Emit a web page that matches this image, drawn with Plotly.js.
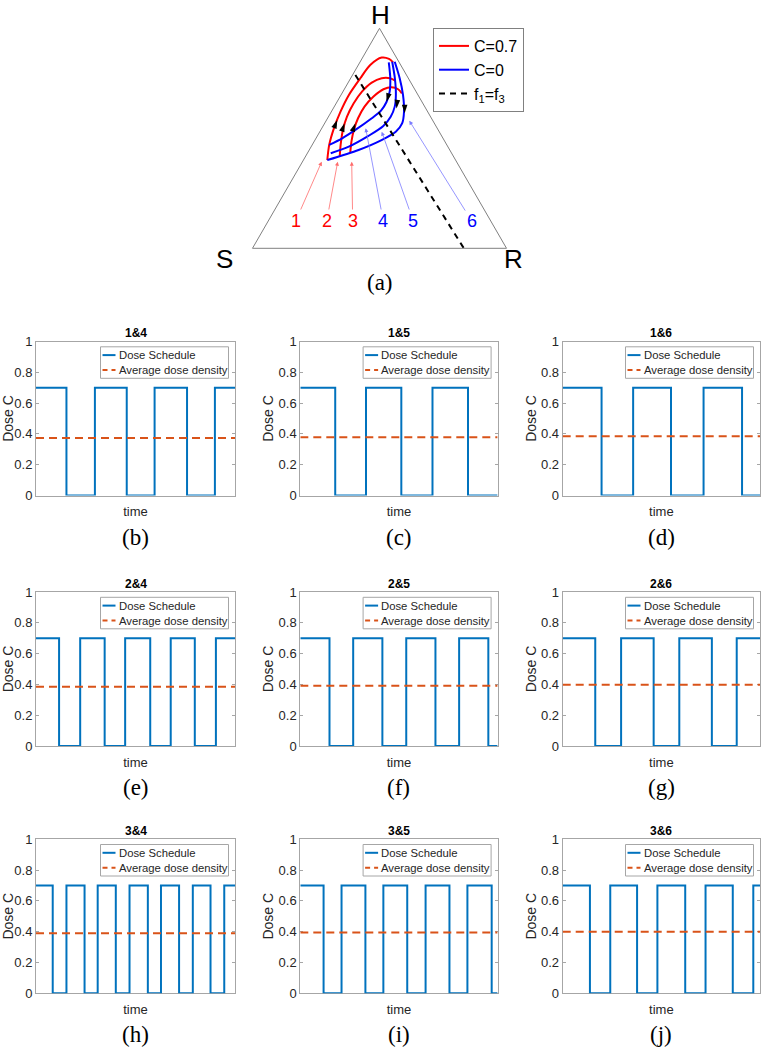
<!DOCTYPE html>
<html><head><meta charset="utf-8">
<script src="https://cdn.plot.ly/plotly-3.0.1.min.js"></script>
<style>body{margin:0;background:#fff}</style>
</head><body>
<div id="chart" style="width:762px;height:1050px"></div>
<script>
// ---------- Panel (a): ternary trajectories (H top, S bottom-left, R bottom-right) ----------
const red1H=[0.401,0.470,0.545,0.621,0.697,0.773,0.833,0.867,0.861,0.845];
const red1S=[0.505,0.463,0.407,0.343,0.272,0.189,0.120,0.058,0.032,0.024];
const red1R=[0.094,0.067,0.048,0.036,0.031,0.038,0.047,0.075,0.107,0.131];
const red2H=[0.417,0.470,0.538,0.598,0.659,0.712,0.753,0.773,0.773,0.761];
const red2S=[0.448,0.418,0.375,0.329,0.272,0.213,0.154,0.105,0.072,0.056];
const red2R=[0.135,0.112,0.087,0.073,0.069,0.075,0.093,0.122,0.155,0.183];
const red3H=[0.436,0.485,0.538,0.591,0.644,0.689,0.723,0.732,0.723,0.704];
const red3S=[0.397,0.368,0.332,0.289,0.237,0.180,0.123,0.087,0.065,0.060];
const red3R=[0.167,0.147,0.130,0.120,0.119,0.131,0.154,0.181,0.212,0.236];
const blue4H=[0.845,0.773,0.712,0.665,0.626,0.591,0.538,0.500,0.470];
const blue4S=[0.041,0.071,0.104,0.140,0.181,0.235,0.326,0.397,0.463];
const blue4R=[0.114,0.156,0.184,0.195,0.193,0.174,0.136,0.103,0.067];
const blue5H=[0.848,0.773,0.697,0.644,0.598,0.556,0.511,0.462,0.432];
const blue5S=[0.026,0.053,0.087,0.118,0.157,0.207,0.288,0.390,0.476];
const blue5R=[0.126,0.174,0.216,0.238,0.245,0.237,0.201,0.148,0.092];
const blue6H=[0.848,0.773,0.697,0.621,0.568,0.530,0.492,0.447,0.401];
const blue6S=[0.016,0.034,0.059,0.093,0.127,0.171,0.246,0.359,0.505];
const blue6R=[0.136,0.193,0.244,0.286,0.305,0.299,0.262,0.194,0.094];
const f13H=[0.788,0.0];
const f13S=[0.201,0.168];
const f13R=[0.011,0.832];
const upArrowH=[0.583,0.568,0.568];
const upArrowS=[0.375,0.354,0.311];
const upArrowR=[0.042,0.078,0.121];
const upArrowAngle=[22,18,20];
const downArrowH=[0.667,0.636,0.614];
const downArrowS=[0.139,0.115,0.094];
const downArrowR=[0.195,0.249,0.292];
const downArrowAngle=[196,186,180];
const curveLabels=['1','2','3','4','5','6'];
const vertexLabels=['H','S','R'];

// ---------- Panels (b)-(j): dose schedules ----------
const subplotTitles=['1&4','1&5','1&6','2&4','2&5','2&6','3&4','3&5','3&6'];
const panelLabels=['(b)','(c)','(d)','(e)','(f)','(g)','(h)','(i)','(j)'];
const seriesNames=['Dose Schedule','Average dose density'];
const highDose=0.7;
const switch14=[0.153,0.296,0.456,0.596,0.759,0.899];
const switch15=[0.177,0.333,0.512,0.670,0.850];
const switch16=[0.197,0.357,0.549,0.714,0.909];
const switch24=[0.116,0.222,0.345,0.448,0.574,0.677,0.798,0.904];
const switch25=[0.148,0.268,0.416,0.537,0.685,0.805,0.953];
const switch26=[0.165,0.296,0.461,0.591,0.756,0.882];
const switch34=[0.084,0.153,0.244,0.310,0.401,0.470,0.562,0.628,0.719,0.788,0.877,0.946];
const switch35=[0.118,0.209,0.330,0.421,0.542,0.635,0.756,0.847,0.970];
const switch36=[0.138,0.241,0.377,0.480,0.621,0.724,0.862,0.966];
const avgDose=[0.373,0.378,0.384,0.385,0.392,0.398,0.389,0.394,0.400];
const yTickVals=[0,0.2,0.4,0.6,0.8,1];
const yTickText=['0','0.2','0.4','0.6','0.8','1'];

const switchSets=[switch14,switch15,switch16,switch24,switch25,switch26,switch34,switch35,switch36];

const W=762,H=1050;
const px=x=>x/W, py=y=>1-y/H;
const SANS='"Liberation Sans", Arial, sans-serif';
const SERIF='"Liberation Serif", "DejaVu Serif", serif';
const AXC='#262626';
const BOXC='#a6a6a6';
const DOSEC='#0072BD', AVGC='#D95319', AVGDASH='8px,5px';

const data=[];
const tern=(H_,S_,R_,extra)=>Object.assign({type:'scatterternary',subplot:'ternary',a:H_,b:S_,c:R_,legend:'legend',hoverinfo:'skip'},extra);
const redLine={color:'#ff0000',width:2,shape:'spline',smoothing:0.8};
const blueLine={color:'#0000ff',width:2,shape:'spline',smoothing:0.8};
data.push(tern(red1H,red1S,red1R,{mode:'lines',name:'C=0.7',line:redLine,showlegend:true}));
data.push(tern(red2H,red2S,red2R,{mode:'lines',name:'C=0.7',line:redLine,showlegend:false}));
data.push(tern(red3H,red3S,red3R,{mode:'lines',name:'C=0.7',line:redLine,showlegend:false}));
data.push(tern(blue4H,blue4S,blue4R,{mode:'lines',name:'C=0',line:blueLine,showlegend:true}));
data.push(tern(blue5H,blue5S,blue5R,{mode:'lines',name:'C=0',line:blueLine,showlegend:false}));
data.push(tern(blue6H,blue6S,blue6R,{mode:'lines',name:'C=0',line:blueLine,showlegend:false}));
data.push(tern(f13H,f13S,f13R,{mode:'lines',name:'f<sub>1</sub>=f<sub>3</sub>',line:{color:'#000',width:2,dash:'6px,5px'},showlegend:true}));
data.push(tern(upArrowH,upArrowS,upArrowR,{mode:'markers',showlegend:false,marker:{symbol:'arrow',size:9,color:'#000',angle:upArrowAngle}}));
data.push(tern(downArrowH,downArrowS,downArrowR,{mode:'markers',showlegend:false,marker:{symbol:'arrow',size:9,color:'#000',angle:downArrowAngle}}));

const colX=[[36,235],[300.3,497.6],[562.7,760]];
const rowY=[[341.5,495.5],[592,746],[839.2,993.3]];

const ternAxis={min:0,showgrid:false,showticklabels:false,ticks:'',linecolor:'#808080',linewidth:1,title:{text:''}};
const layout={
  width:W,height:H,margin:{l:0,r:0,t:0,b:0},
  paper_bgcolor:'#fff',plot_bgcolor:'#fff',
  font:{family:SANS,color:AXC},
  annotations:[],shapes:[],
  ternary:{
    domain:{x:[px(250.5),px(508.5)],y:[py(248.3),py(28.3)]},
    sum:1,bgcolor:'#fff',
    aaxis:JSON.parse(JSON.stringify(ternAxis)),
    baxis:JSON.parse(JSON.stringify(ternAxis)),
    caxis:JSON.parse(JSON.stringify(ternAxis))
  },
  legend:{x:px(433),y:py(28),xanchor:'left',yanchor:'top',bgcolor:'#fff',bordercolor:'#808080',borderwidth:1,
    font:{family:SANS,size:16,color:'#000'},itemwidth:30,tracegroupgap:0}
};

// vertex labels and (a)
const vertexPos=[[380,15],[224,259],[513,259]];
vertexLabels.forEach((t,k)=>{
  layout.annotations.push({xref:'paper',yref:'paper',x:px(vertexPos[k][0]),y:py(vertexPos[k][1]),text:t,showarrow:false,
    font:{family:SANS,size:26,color:'#000'},xanchor:'center',yanchor:'middle'});
});
layout.annotations.push({xref:'paper',yref:'paper',x:px(380),y:py(282),text:'(a)',showarrow:false,font:{family:SERIF,size:23,color:'#000'},xanchor:'center',yanchor:'middle'});

// numbered pointer labels
const labelTips=[[321.7,161.7],[337.7,161.7],[351.7,161.7],[365.7,128.3],[381.7,131.7],[409.3,120.7]];
const labelPos=[[295.7,221],[326.7,221],[352.7,221],[383.3,221],[413.3,221],[471.7,221]];
curveLabels.forEach((t,k)=>{
  const isRed=k<3;
  layout.annotations.push({xref:'paper',yref:'paper',x:px(labelTips[k][0]),y:py(labelTips[k][1]),
    ax:labelPos[k][0]-labelTips[k][0],ay:labelPos[k][1]-labelTips[k][1],
    text:t,showarrow:true,arrowhead:2,arrowsize:1,arrowwidth:0.8,
    arrowcolor:isRed?'#ff6b6b':'#7b7bff',
    font:{family:SANS,size:18,color:isRed?'#ff0000':'#0000ff'}});
});

subplotTitles.forEach((title,i)=>{
  const r=Math.floor(i/3), c=i%3;
  const suf=i===0?'':String(i+1);
  const sw=switchSets[i];
  const xs=[0], ys=[highDose];
  sw.forEach((t,k)=>{xs.push(t); ys.push(k%2===0?0:highDose);});
  xs.push(1); ys.push(ys[ys.length-1]);
  data.push({type:'scatter',mode:'lines',x:xs,y:ys,xaxis:'x'+suf,yaxis:'y'+suf,name:seriesNames[0],
    line:{color:DOSEC,width:2,shape:'hv'},showlegend:false,hoverinfo:'skip'});
  data.push({type:'scatter',mode:'lines',x:[0,1],y:[avgDose[i],avgDose[i]],xaxis:'x'+suf,yaxis:'y'+suf,name:seriesNames[1],
    line:{color:AVGC,width:2,dash:AVGDASH},showlegend:false,hoverinfo:'skip'});
  const xd=[px(colX[c][0]),px(colX[c][1])];
  const yd=[py(rowY[r][1]),py(rowY[r][0])];
  layout['xaxis'+suf]={domain:xd,anchor:'y'+suf,range:[0,1],showticklabels:false,ticks:'',showgrid:false,zeroline:false,
    showline:true,mirror:true,linecolor:BOXC,linewidth:1,layer:'below traces',
    title:{text:'time',font:{family:SANS,size:13,color:AXC},standoff:11}};
  layout['yaxis'+suf]={domain:yd,anchor:'x'+suf,range:[0,1],tickvals:yTickVals,ticktext:yTickText,ticks:'inside',ticklen:3,
    tickcolor:BOXC,showgrid:false,zeroline:false,showline:true,mirror:'ticks',linecolor:BOXC,linewidth:1,layer:'below traces',
    tickfont:{family:SANS,size:13,color:AXC},
    title:{text:'Dose C',font:{family:SANS,size:14,color:AXC},standoff:1}};

  // in-axes legend box (MATLAB style, compact)
  const bR=colX[c][1]-6.5, bL=bR-128, bT=rowY[r][0]+5.3, bB=bT+31.5;
  layout.shapes.push({type:'rect',xref:'paper',yref:'paper',x0:px(bL),x1:px(bR),y0:py(bB),y1:py(bT),
    fillcolor:'#fff',line:{color:BOXC,width:1},layer:'above'});
  const rowsY=[bT+8.3,bT+23.3];
  const styles=[{color:DOSEC,width:2},{color:AVGC,width:2,dash:'5px,4px'}];
  seriesNames.forEach((nm,k)=>{
    layout.shapes.push({type:'line',xref:'paper',yref:'paper',x0:px(bL+2),x1:px(bL+15),y0:py(rowsY[k]),y1:py(rowsY[k]),
      line:styles[k],layer:'above'});
    layout.annotations.push({xref:'paper',yref:'paper',x:px(bL+16),y:py(rowsY[k]),text:nm,showarrow:false,
      xanchor:'left',yanchor:'middle',font:{family:SANS,size:11.3,color:AXC}});
  });

  const cx=px((colX[c][0]+colX[c][1])/2);
  layout.annotations.push({xref:'paper',yref:'paper',x:cx,y:py(rowY[r][0]-8.5),text:'<b>'+title+'</b>',showarrow:false,
    xanchor:'center',yanchor:'middle',font:{family:SANS,size:12,color:'#000'}});
  layout.annotations.push({xref:'paper',yref:'paper',x:cx,y:py(rowY[r][1]+41.5),text:panelLabels[i],showarrow:false,
    xanchor:'center',yanchor:'middle',font:{family:SERIF,size:23,color:'#000'}});
});

Plotly.newPlot('chart',data,layout,{displayModeBar:false,staticPlot:true});
</script>
</body></html>
